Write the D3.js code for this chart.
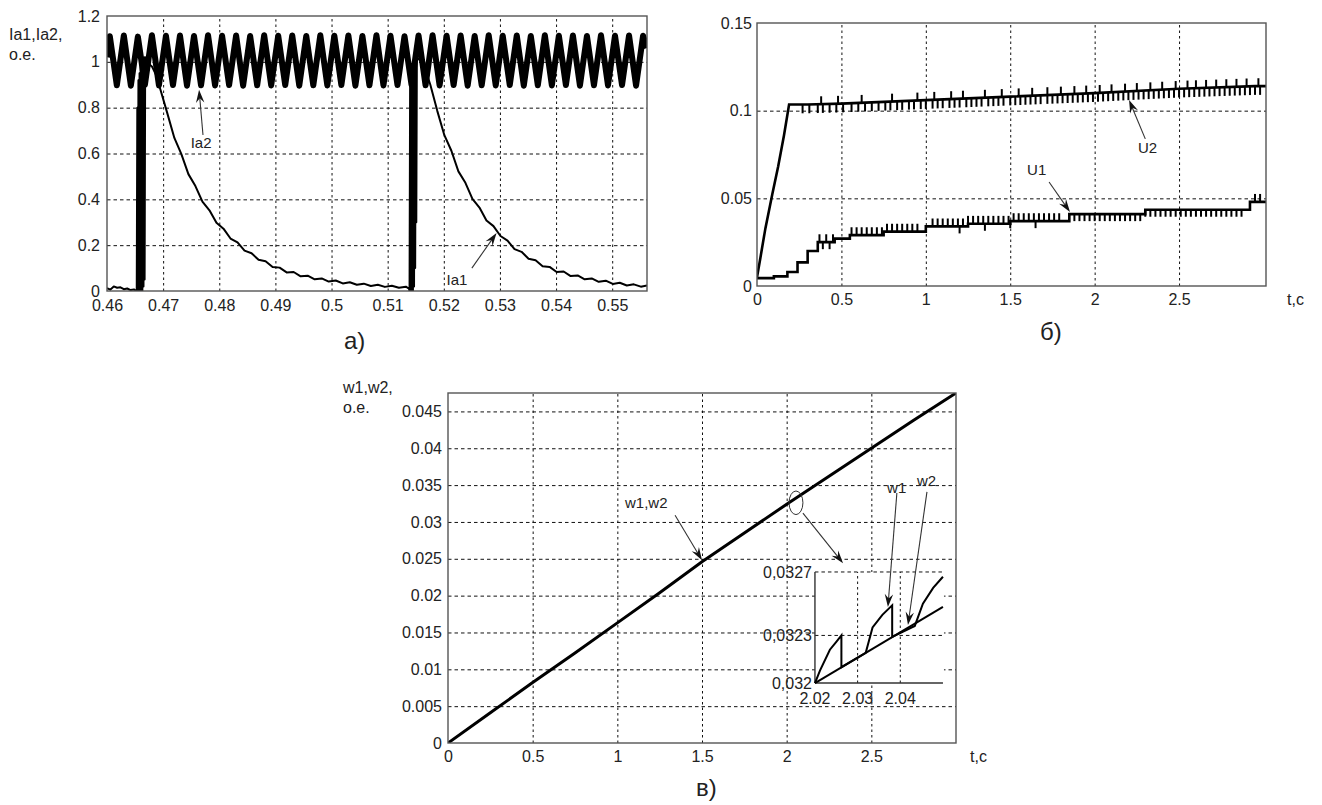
<!DOCTYPE html>
<html><head><meta charset="utf-8">
<script src="https://cdn.jsdelivr.net/npm/d3@7"></script>
<style>
html,body{margin:0;padding:0;background:#fff;}
svg{display:block;}
text{font-family:"Liberation Sans",Arial,sans-serif;fill:#222;}
</style></head><body>
<svg id="c" width="1322" height="805"></svg>
<script>
// ---------------- DATA ----------------
// Panel a) : Ia1, Ia2 vs t
const aXTicks = [0.46,0.47,0.48,0.49,0.50,0.51,0.52,0.53,0.54,0.55];
const aXLabels = ["0.46","0.47","0.48","0.49","0.5","0.51","0.52","0.53","0.54","0.55"];
const aYTicks = [0,0.2,0.4,0.6,0.8,1,1.2];
const aYLabels = ["0","0.2","0.4","0.6","0.8","1","1.2"];
const ia2T = [0.4600,0.4605,0.46175,0.4630,0.46425,0.4655,0.46675,0.4680,0.46925,0.4705,0.47175,0.4730,0.47425,0.4755,0.47675,0.4780,0.47925,0.4805,0.48175,0.4830,0.48425,0.4855,0.48675,0.4880,0.48925,0.4905,0.49175,0.4930,0.49425,0.4955,0.49675,0.4980,0.49925,0.5005,0.50175,0.5030,0.50425,0.5055,0.50675,0.5080,0.50925,0.5105,0.51175,0.5130,0.51425,0.5155,0.51675,0.5180,0.51925,0.5205,0.52175,0.5230,0.52425,0.5255,0.52675,0.5280,0.52925,0.5305,0.53175,0.5330,0.53425,0.5355,0.53675,0.5380,0.53925,0.5405,0.54175,0.5430,0.54425,0.5455,0.54675,0.5480,0.54925,0.5505,0.55175,0.5530,0.55425,0.5555,0.5562];
const ia2V = [1.02,1.112,0.898,1.115,0.896,1.110,0.900,1.116,0.897,1.114,0.899,1.115,0.896,1.113,0.898,1.116,0.897,1.114,0.899,1.115,0.896,1.113,0.898,1.116,0.897,1.114,0.899,1.115,0.896,1.113,0.898,1.116,0.897,1.114,0.899,1.115,0.896,1.113,0.898,1.116,0.897,1.114,0.899,1.112,0.900,1.115,0.898,1.116,0.897,1.114,0.899,1.115,0.896,1.113,0.898,1.116,0.897,1.114,0.899,1.115,0.896,1.113,0.898,1.116,0.897,1.114,0.899,1.115,0.896,1.113,0.898,1.116,0.897,1.114,0.899,1.115,0.896,1.114,1.06];
const ia1T = [0.4600,0.4606,0.4612,0.4618,0.4624,0.4630,0.4636,0.4642,0.4648,0.4652,
  0.4653,0.4654,0.4655,0.4656,0.4657,0.4658,0.4659,0.4660,0.4661,0.4662,0.4663,0.4664,0.4665,0.4666,0.4667,0.4668,
  0.4670,0.4680,0.4688,
  0.4695,0.47075,0.4720,0.47325,0.4745,0.47575,0.4770,0.47825,0.4795,0.48075,0.4820,0.48325,0.4845,0.48575,0.4870,0.48825,0.4895,0.49075,0.4920,0.49325,0.4945,0.49575,0.4970,0.49825,0.4995,0.50075,0.5020,0.50325,0.5045,0.50575,0.5070,0.50825,0.5095,0.51075,0.5120,0.51325,0.5138,
  0.5139,0.5140,0.5141,0.5142,0.5143,0.5144,0.5145,0.5146,0.5147,0.5148,0.5149,0.5150,0.5151,0.5152,
  0.5160,0.5168,
  0.5176,0.51885,0.5201,0.52135,0.5226,0.52385,0.5251,0.52635,0.5276,0.52885,0.5301,0.53135,0.5326,0.53385,0.5351,0.53635,0.5376,0.53885,0.5401,0.54135,0.5426,0.54385,0.5451,0.54635,0.5476,0.54885,0.5501,0.55135,0.5526,0.55385,0.5551,0.5562];
const ia1V = [0.012,0.006,0.020,0.014,0.016,0.008,0.011,0.004,0.007,0.0,
  0.0,0.80,0.0,0.92,0.0,0.95,0.0,0.98,0.0,1.0,0.0,1.0,0.02,1.02,0.05,1.02,
  1.0,0.98,0.94,
  0.88,0.775,0.668,0.597,0.510,0.458,0.390,0.352,0.298,0.272,0.229,0.212,0.176,0.165,0.136,0.130,0.105,0.102,0.081,0.083,0.064,0.067,0.051,0.055,0.041,0.046,0.033,0.038,0.027,0.032,0.022,0.027,0.018,0.023,0.014,0.019,0.010,
  0.0,0.90,0.0,0.95,0.0,0.98,0.0,1.0,0.02,1.0,0.10,1.02,0.30,1.02,
  1.0,0.96,
  0.90,0.785,0.680,0.612,0.522,0.472,0.402,0.364,0.308,0.283,0.240,0.220,0.183,0.171,0.141,0.134,0.108,0.105,0.083,0.085,0.065,0.068,0.051,0.055,0.040,0.045,0.031,0.036,0.024,0.029,0.019,0.024];

// Panel b) : U1, U2 vs t
const bXTicks = [0,0.5,1,1.5,2,2.5];
const bXLabels = ["0","0.5","1","1.5","2","2.5"];
const bYTicks = [0,0.05,0.1,0.15];
const bYLabels = ["0","0.05","0.1","0.15"];
const u2T = [0,0.02,0.05,0.09,0.125,0.16,0.19,0.30,0.50,1.00,1.50,2.00,2.50,2.95,3.015];
const u2V = [0.005,0.016,0.033,0.052,0.068,0.086,0.1035,0.1035,0.1040,0.1060,0.1080,0.1100,0.1125,0.1140,0.1140];
const u2DownTicks = [0.27,0.31,0.36,0.39,0.43,0.47,0.51,0.56,0.60,0.64,0.68,0.72,0.76,0.79,0.83,0.86,0.90,0.93,0.97,1.00,1.04,1.07,1.10,1.14,1.17,1.20,1.24,1.27,1.30,1.33,1.37,1.40,1.43,1.46,1.50,1.53,1.56,1.59,1.62,1.65,1.68,1.72,1.75,1.78,1.81,1.84,1.87,1.90,1.93,1.96,1.99,2.02,2.05,2.08,2.11,2.14,2.17,2.20,2.23,2.26,2.29,2.32,2.35,2.38,2.41,2.44,2.47,2.50,2.53,2.56,2.59,2.62,2.65,2.68,2.71,2.74,2.77,2.80,2.83,2.86,2.89,2.92,2.95,2.98];
const u2UpTicks = [0.38,0.48,0.62,0.80,0.95,1.05,1.15,1.22,1.35,1.45,1.55,1.63,1.72,1.80,1.88,1.95,2.03,2.10,2.18,2.25,2.33,2.40,2.48,2.55,2.60,2.66,2.72,2.78,2.84,2.90,2.97];
const u2DownLen = 0.005, u2UpLen = 0.0045;
const u1T = [0,0.10,0.18,0.24,0.30,0.36,0.46,0.55,0.75,1.00,1.25,1.50,1.85,2.30,2.92,3.015];
const u1V = [0.0045,0.0055,0.008,0.0135,0.020,0.025,0.027,0.029,0.031,0.034,0.0355,0.037,0.041,0.0435,0.048,0.048];
const u1UpTicks = [0.37,0.41,0.45,0.56,0.59,0.62,0.65,0.68,0.71,0.74,0.77,0.80,0.83,0.86,0.89,0.92,0.95,1.04,1.07,1.10,1.13,1.16,1.19,1.22,1.25,1.28,1.31,1.34,1.37,1.40,1.43,1.46,1.49,1.52,1.55,1.58,1.61,1.64,1.67,1.70,1.73,1.76,1.79,2.95,2.98];
const u1DownTicks = [0.39,0.43,1.20,1.35,1.50,1.65,1.88,1.91,1.94,1.97,2.00,2.03,2.06,2.09,2.12,2.15,2.18,2.21,2.24,2.27,2.30,2.33,2.36,2.39,2.42,2.45,2.48,2.51,2.54,2.57,2.60,2.63,2.66,2.69,2.72,2.75,2.78,2.81,2.84,2.87];
const u1UpLen = 0.0045, u1DownLen = 0.0040;

// Panel c) : w1, w2 vs t
const cXTicks = [0,0.5,1,1.5,2,2.5];
const cXLabels = ["0","0.5","1","1.5","2","2.5"];
const cYTicks = [0,0.005,0.01,0.015,0.02,0.025,0.03,0.035,0.04,0.045];
const cYLabels = ["0","0.005","0.01","0.015","0.02","0.025","0.03","0.035","0.04","0.045"];
const wT = [0,0.25,0.5,0.75,1.0,1.25,1.5,1.75,2.0,2.25,2.5,2.75,3.0];
const wV = [0,0.0041,0.0082,0.0122,0.0163,0.0204,0.0246,0.0285,0.0324,0.0362,0.0400,0.0438,0.0475];
// inset (zoom of w1, w2)
const iXTicks = [2.02,2.03,2.04];
const iXLabels = ["2.02","2.03","2.04"];
const iYTicks = [0.032,0.0323,0.0327];
const iYLabels = ["0,032","0,0323","0,0327"];
const iw1T = [2.0200,2.0212,2.0235,2.0250,2.0262,2.0262,2.0319,2.0335,2.0358,2.0381,2.0381,2.0434,2.0453,2.0477,2.0500];
const iw1V = [0.03200,0.03208,0.03221,0.03226,0.03230,0.03210,0.03219,0.03235,0.03243,0.03249,0.03229,0.03236,0.03250,0.03260,0.03267];
const iw2T = [2.0200,2.0500];
const iw2V = [0.03200,0.03248];

// ---------------- DRAWING ----------------
const svg = d3.select("#c");
svg.append("rect").attr("width",1322).attr("height",805).attr("fill","#fff");

const FONT = "Liberation Sans, Arial, sans-serif";

function drawPanel(cfg){
  const g = svg.append("g");
  const [x0,x1] = cfg.x.range(), [y0,y1] = cfg.y.range();
  g.append("g").attr("transform",`translate(0,${y0})`)
    .call(d3.axisBottom(cfg.x).tickValues(cfg.xGrid).tickSize(-(y0-y1)).tickFormat(""))
    .call(s=>s.select(".domain").remove())
    .selectAll("line").attr("stroke","#111").attr("stroke-width",1).attr("stroke-dasharray","2.5,3");
  g.append("g").attr("transform",`translate(${x0},0)`)
    .call(d3.axisLeft(cfg.y).tickValues(cfg.yGrid).tickSize(-(x1-x0)).tickFormat(""))
    .call(s=>s.select(".domain").remove())
    .selectAll("line").attr("stroke","#111").attr("stroke-width",1).attr("stroke-dasharray","3.5,3");
  const xa = g.append("g").attr("transform",`translate(0,${y0})`)
    .call(d3.axisBottom(cfg.x).tickValues(cfg.xTicks).tickFormat((d,i)=>cfg.xLabels[i]).tickSize(0).tickPadding(cfg.xPad));
  xa.select(".domain").remove();
  xa.attr("font-size",16).attr("font-family",FONT);
  xa.selectAll("text").attr("fill","#222");
  const ya = g.append("g").attr("transform",`translate(${x0},0)`)
    .call(d3.axisLeft(cfg.y).tickValues(cfg.yTicks).tickFormat((d,i)=>cfg.yLabels[i]).tickSize(0).tickPadding(cfg.yPad));
  ya.select(".domain").remove();
  ya.attr("font-size",16).attr("font-family",FONT);
  ya.selectAll("text").attr("fill","#222");
  const id = "clip"+cfg.name;
  svg.append("defs").append("clipPath").attr("id",id).append("rect")
    .attr("x",x0).attr("y",y1).attr("width",x1-x0).attr("height",y0-y1);
  const plot = g.append("g").attr("clip-path",`url(#${id})`);
  const frame = ()=> g.append("rect").attr("x",x0).attr("y",y1).attr("width",x1-x0).attr("height",y0-y1)
    .attr("fill","none").attr("stroke","#555").attr("stroke-width",1.4);
  return {g, plot, frame};
}

function arrow(g, xa, ya, xb, yb, L=13, W=4.2){
  const a = Math.atan2(yb-ya, xb-xa);
  const c = Math.cos(a), s = Math.sin(a);
  g.append("line").attr("x1",xa).attr("y1",ya).attr("x2",xb - c*L*0.6).attr("y2",yb - s*L*0.6)
    .attr("stroke","#333").attr("stroke-width",1.1);
  const p = [[xb,yb],[xb - c*L + s*W, yb - s*L - c*W],[xb - c*L*0.65, yb - s*L*0.65],[xb - c*L - s*W, yb - s*L + c*W]];
  g.append("path").attr("d","M"+p.map(q=>q.join(",")).join("L")+"Z").attr("fill","#111");
}
function label(g, x, y, txt, size=15, anchor="start"){
  g.append("text").attr("x",x).attr("y",y).attr("font-size",size).attr("text-anchor",anchor)
    .attr("font-family",FONT).attr("fill","#222").text(txt);
}
const zip = (T,V)=>T.map((t,i)=>[t,V[i]]);

// ===== Panel a =====
{
  const x = d3.scaleLinear().domain([0.46,0.5562]).range([107,647]);
  const y = d3.scaleLinear().domain([0,1.2]).range([291,16]);
  const P = drawPanel({name:"a",x,y,xTicks:aXTicks,xLabels:aXLabels,yTicks:aYTicks,yLabels:aYLabels,
    xGrid:aXTicks.slice(1),yGrid:aYTicks.slice(1,-1),xPad:9,yPad:7});
  const line = d3.line().x(d=>x(d[0])).y(d=>y(d[1]));
  P.plot.append("path").attr("d",line(zip(ia1T,ia1V))).attr("fill","none").attr("stroke","#000")
    .attr("stroke-width",2).attr("stroke-linejoin","round");
  P.plot.append("path").attr("d",line(zip(ia2T,ia2V))).attr("fill","none").attr("stroke","#000")
    .attr("stroke-width",6).attr("stroke-linejoin","round");
  P.frame();
  label(P.g, 9, 40, "Ia1,Ia2,", 16);
  label(P.g, 9, 60, "o.e.", 16);
  arrow(P.g, x(0.4771), y(0.681), x(0.4764), y(0.878));
  label(P.g, x(0.4749), y(0.624), "Ia2");
  arrow(P.g, x(0.5250), y(0.100), x(0.5294), y(0.253));
  label(P.g, x(0.5205), y(0.026), "Ia1");
  svg.append("text").attr("x",344).attr("y",349).attr("font-family","Liberation Serif, Times New Roman, serif")
    .attr("font-size",24).attr("fill","#111").text("а)");
}

// ===== Panel b =====
{
  const x = d3.scaleLinear().domain([0,3.015]).range([757,1266]);
  const y = d3.scaleLinear().domain([0,0.15]).range([286,23]);
  const P = drawPanel({name:"b",x,y,xTicks:bXTicks,xLabels:bXLabels,yTicks:bYTicks,yLabels:bYLabels,
    xGrid:bXTicks.slice(1),yGrid:bYTicks.slice(1,-1),xPad:8,yPad:5});
  const lin = d3.line().x(d=>x(d[0])).y(d=>y(d[1]));
  const step = d3.line().x(d=>x(d[0])).y(d=>y(d[1])).curve(d3.curveStepAfter);
  const u2 = zip(u2T,u2V), u1 = zip(u1T,u1V);
  const base2 = t=>{ const i = d3.bisectRight(u2T,t)-1; const j=Math.min(i+1,u2T.length-1);
    const f = u2T[j]===u2T[i]?0:(t-u2T[i])/(u2T[j]-u2T[i]); return u2V[i]+f*(u2V[j]-u2V[i]); };
  const base1 = t=>u1V[Math.max(0,d3.bisectRight(u1T,t)-1)];
  P.plot.append("path").attr("d",lin(u2)).attr("fill","none").attr("stroke","#000").attr("stroke-width",2.6);
  P.plot.append("path").attr("d",step(u1)).attr("fill","none").attr("stroke","#000").attr("stroke-width",2.6);
  const tick = (T, base, dv)=> P.plot.selectAll(null).data(T).enter().append("line")
    .attr("x1",d=>x(d)).attr("x2",d=>x(d)).attr("y1",d=>y(base(d))).attr("y2",d=>y(base(d)+dv))
    .attr("stroke","#000").attr("stroke-width",2);
  tick(u2DownTicks, base2, -u2DownLen);
  tick(u2UpTicks, base2, u2UpLen);
  tick(u1UpTicks, base1, u1UpLen);
  tick(u1DownTicks, base1, -u1DownLen);
  P.frame();
  label(P.g, 1287, 305, "t,c", 16);
  arrow(P.g, x(2.300), y(0.0839), x(2.204), y(0.1061));
  label(P.g, x(2.257), y(0.0759), "U2");
  arrow(P.g, x(1.730), y(0.0593), x(1.854), y(0.0422));
  label(P.g, x(1.600), y(0.0633), "U1");
  svg.append("text").attr("x",1040).attr("y",340).attr("font-family","Liberation Serif, Times New Roman, serif")
    .attr("font-size",24).attr("fill","#111").text("б)");
}

// ===== Panel c =====
{
  const x = d3.scaleLinear().domain([0,3.0]).range([448,956]);
  const y = d3.scaleLinear().domain([0,0.0475]).range([743,393]);
  const P = drawPanel({name:"c",x,y,xTicks:cXTicks,xLabels:cXLabels,yTicks:cYTicks,yLabels:cYLabels,
    xGrid:cXTicks.slice(1),yGrid:cYTicks.slice(1),xPad:8,yPad:6});
  const line = d3.line().x(d=>x(d[0])).y(d=>y(d[1]));
  const ix = d3.scaleLinear().domain([2.02,2.05]).range([x(2.167),x(2.923)]);
  const iy = d3.scaleLinear().domain([0.032,0.0327]).range([y(0.00814),y(0.02321)]);
  const ig = P.g.append("g");
  ig.append("rect").attr("x",ix(2.02)).attr("y",iy(0.0327)).attr("width",ix(2.05)-ix(2.02)+1)
    .attr("height",iy(0.032)-iy(0.0327)).attr("fill","#fff");
  ig.selectAll(null).data([0.0323,0.0327]).enter().append("line")
    .attr("x1",ix(2.02)).attr("x2",ix(2.05)).attr("y1",d=>iy(d)).attr("y2",d=>iy(d))
    .attr("stroke","#111").attr("stroke-dasharray","3.5,3");
  ig.selectAll(null).data([2.03,2.04]).enter().append("line")
    .attr("x1",d=>ix(d)).attr("x2",d=>ix(d)).attr("y1",iy(0.032)).attr("y2",iy(0.0327))
    .attr("stroke","#111").attr("stroke-dasharray","2.5,3");
  ig.append("line").attr("x1",ix(2.02)).attr("x2",ix(2.02)).attr("y1",iy(0.032)).attr("y2",iy(0.0327))
    .attr("stroke","#333").attr("stroke-width",1.4);
  ig.append("line").attr("x1",ix(2.02)).attr("x2",ix(2.05)).attr("y1",iy(0.032)).attr("y2",iy(0.032))
    .attr("stroke","#333").attr("stroke-width",1.4);
  const iline = d3.line().x(d=>ix(d[0])).y(d=>iy(d[1]));
  ig.append("path").attr("d",iline(zip(iw2T,iw2V))).attr("fill","none").attr("stroke","#000").attr("stroke-width",2);
  ig.append("path").attr("d",iline(zip(iw1T,iw1V))).attr("fill","none").attr("stroke","#000").attr("stroke-width",2);
  ig.selectAll(null).data(iYTicks).enter().append("text")
    .attr("x",ix(2.02)-3).attr("y",d=>iy(d)).attr("dy","0.35em").attr("text-anchor","end")
    .attr("font-size",16).attr("font-family",FONT).attr("fill","#222").text((d,i)=>iYLabels[i]);
  ig.selectAll(null).data(iXTicks).enter().append("text")
    .attr("x",d=>ix(d)).attr("y",iy(0.032)+21).attr("text-anchor","middle")
    .attr("font-size",16).attr("font-family",FONT).attr("fill","#222").text((d,i)=>iXLabels[i]);
  P.plot.append("path").attr("d",line(zip(wT,wV))).attr("fill","none").attr("stroke","#000").attr("stroke-width",3);
  P.frame();
  label(P.g, 343, 393, "w1,w2,", 16);
  label(P.g, 343, 413, "o.e.", 16);
  label(P.g, 970, 762, "t,c", 16);
  label(P.g, x(1.045), y(0.0319), "w1,w2");
  arrow(P.g, x(1.341), y(0.0309), x(1.500), y(0.0248));
  P.g.append("ellipse").attr("cx",x(2.055)).attr("cy",y(0.0326)).attr("rx",x(2.055)-x(2.014)).attr("ry",y(0.0310)-y(0.0326))
    .attr("fill","none").attr("stroke","#333").attr("stroke-width",1);
  arrow(P.g, x(2.096), y(0.0312), x(2.333), y(0.0244));
  label(P.g, ix(2.0369), iy(0.0332), "w1");
  label(P.g, ix(2.0439), iy(0.03324), "w2");
  arrow(P.g, ix(2.0392), iy(0.033198), ix(2.0371), iy(0.032479));
  arrow(P.g, ix(2.04625), iy(0.033205), ix(2.0418), iy(0.032366));
  svg.append("text").attr("x",696).attr("y",796).attr("font-family","Liberation Serif, Times New Roman, serif")
    .attr("font-size",24).attr("fill","#111").text("в)");
}
</script>
</body></html>
